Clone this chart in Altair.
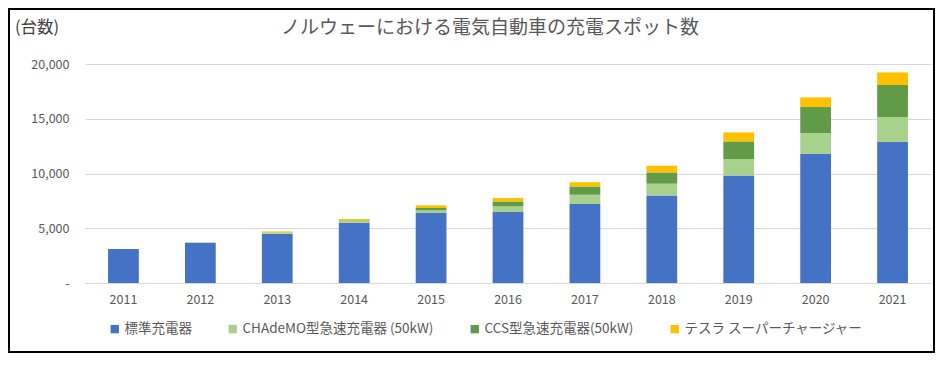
import altair as alt
import pandas as pd

years = ["2011", "2012", "2013", "2014", "2015", "2016", "2017", "2018", "2019", "2020", "2021"]
series_names = ["標準充電器", "CHAdeMO型急速充電器 (50kW)", "CCS型急速充電器(50kW)", "テスラ スーパーチャージャー"]
standard = [3100, 3680, 4500, 5500, 6390, 6480, 7210, 8000, 9820, 11780, 12870]
chademo = [0, 30, 100, 150, 240, 510, 850, 1070, 1500, 1920, 2290]
ccs = [0, 0, 20, 50, 220, 460, 760, 1030, 1610, 2370, 2920]
tesla = [0, 0, 90, 140, 240, 310, 370, 610, 820, 880, 1150]
colors = ["#4472C4", "#A9D18E", "#629B48", "#FFC000"]
y_ticks = [0, 5000, 10000, 15000, 20000]
title_text = "ノルウェーにおける電気自動車の充電スポット数"
unit_text = "(台数)"

rows = []
for idx, (name, vals) in enumerate(zip(series_names, [standard, chademo, ccs, tesla])):
    for y, v in zip(years, vals):
        rows.append({"year": y, "series": name, "value": v, "idx": idx})
df = pd.DataFrame(rows)

FONT = "Noto Sans CJK JP"
W, H = 846, 219

bars = alt.Chart(df).mark_bar().encode(
    x=alt.X("year:N", title=None,
            scale=alt.Scale(paddingInner=0.6, paddingOuter=0.3),
            axis=alt.Axis(labelAngle=0, ticks=False, domain=True, domainColor="#d9d9d9",
                          labelColor="#595959", labelFontSize=12.5, labelPadding=10, labelFont=FONT)),
    y=alt.Y("value:Q", stack="zero", title=None,
            scale=alt.Scale(domain=[0, 20000]),
            axis=alt.Axis(values=y_ticks, ticks=False, domain=False, gridColor="#d9d9d9",
                          labelExpr="datum.value == 0 ? '-' : format(datum.value, ',')",
                          labelColor="#595959", labelFontSize=12.5, labelPadding=16, labelFont=FONT)),
    color=alt.Color("series:N", scale=alt.Scale(domain=series_names, range=colors),
                    legend=alt.Legend(title=None, orient="none", direction="horizontal",
                                      legendX=23, legendY=258, symbolType="square", symbolSize=70,
                                      symbolStrokeWidth=0, labelFontSize=13.5, labelColor="#595959",
                                      labelFont=FONT, columnPadding=34, labelOffset=3,
                                      labelLimit=400)),
    order=alt.Order("idx:Q", sort="ascending"),
)

title_df = pd.DataFrame({"t": [title_text]})
title = alt.Chart(title_df).mark_text(fontSize=19, color="#595959", font=FONT, align="center", baseline="middle").encode(
    x=alt.value(405), y=alt.value(-36), text="t:N")

unit_df = pd.DataFrame({"t": [unit_text]})
unit = alt.Chart(unit_df).mark_text(fontSize=16.5, color="#404040", font=FONT, align="left", baseline="middle").encode(
    x=alt.value(-70), y=alt.value(-36), text="t:N")

border = alt.Chart(title_df).mark_rect(fill=None, stroke="#000000", strokeWidth=2).encode(
    x=alt.value(-76), x2=alt.value(W + 3), y=alt.value(-55), y2=alt.value(H + 69))

chart = alt.layer(bars, title, unit, border).properties(
    width=W, height=H,
    autosize=alt.AutoSizeParams(type="none"),
    padding={"left": 77, "top": 56, "right": 4, "bottom": 70},
).configure_view(stroke=None)

chart.save("out.html", embed_options={"renderer": "svg", "actions": False})
